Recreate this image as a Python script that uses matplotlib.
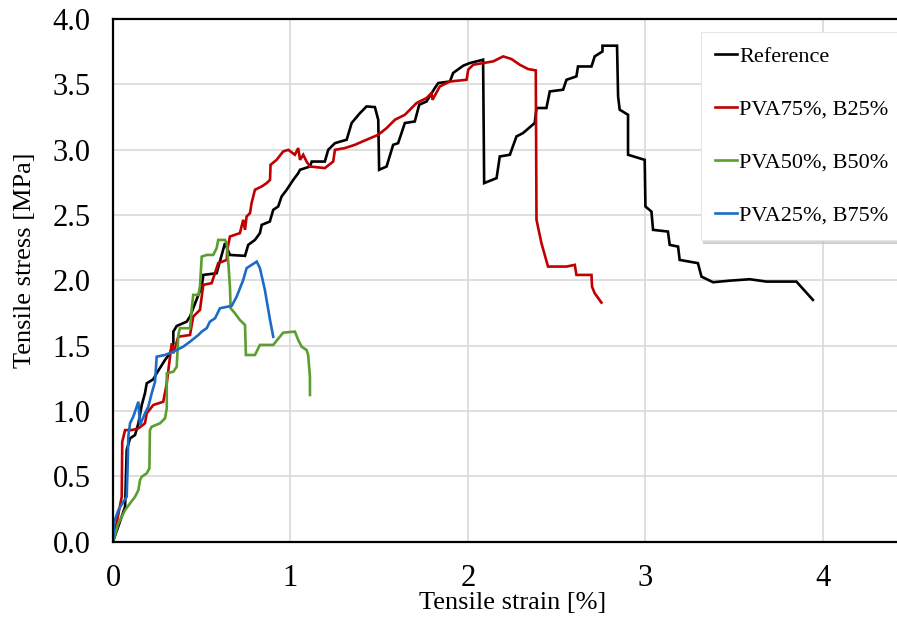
import matplotlib
matplotlib.use("Agg")
import matplotlib.pyplot as plt
from matplotlib.ticker import FixedLocator, MultipleLocator, FormatStrFormatter

# strain [%] / stress [MPa] for each mix
ref_strain = [0.0, 0.068, 0.077, 0.096, 0.124, 0.143, 0.162, 0.180, 0.190, 0.227,
              0.246, 0.293, 0.321, 0.340, 0.340, 0.359, 0.415, 0.434, 0.452, 0.481,
              0.500, 0.509, 0.584, 0.631, 0.659, 0.744, 0.762, 0.800, 0.828, 0.838,
              0.884, 0.903, 0.931, 0.950, 0.979, 1.016, 1.044, 1.054, 1.110, 1.120,
              1.194, 1.213, 1.251, 1.317, 1.345, 1.392, 1.429, 1.476, 1.495, 1.500,
              1.542, 1.579, 1.607, 1.645, 1.701, 1.726, 1.767, 1.814, 1.833, 1.899,
              1.917, 1.974, 2.011, 2.086, 2.092, 2.162, 2.180, 2.237, 2.274, 2.311,
              2.377, 2.387, 2.443, 2.462, 2.537, 2.556, 2.612, 2.621, 2.697, 2.715,
              2.759, 2.759, 2.841, 2.847, 2.856, 2.903, 2.903, 2.997, 3.001, 3.035,
              3.044, 3.128, 3.138, 3.185, 3.194, 3.297, 3.317, 3.382, 3.476, 3.589,
              3.683, 3.852, 3.945]
ref_stress = [0.0, 0.267, 0.701, 0.791, 0.816, 0.906, 1.046, 1.136, 1.212, 1.243,
              1.289, 1.391, 1.442, 1.519, 1.608, 1.651, 1.684, 1.723, 1.787, 1.889,
              1.953, 2.042, 2.055, 2.285, 2.195, 2.188, 2.272, 2.310, 2.362, 2.425,
              2.451, 2.540, 2.566, 2.642, 2.694, 2.770, 2.821, 2.847, 2.872, 2.910,
              2.910, 3.000, 3.051, 3.077, 3.205, 3.281, 3.332, 3.327, 3.230, 2.847,
              2.872, 3.038, 3.051, 3.205, 3.217, 3.345, 3.370, 3.473, 3.511, 3.523,
              3.588, 3.644, 3.664, 3.690, 2.745, 2.783, 2.949, 2.962, 3.102, 3.128,
              3.205, 3.320, 3.320, 3.447, 3.460, 3.536, 3.562, 3.638, 3.638, 3.715,
              3.753, 3.797, 3.797, 3.408, 3.307, 3.268, 2.962, 2.923, 2.566, 2.527,
              2.387, 2.374, 2.272, 2.259, 2.157, 2.132, 2.029, 1.986, 1.998, 2.009,
              1.991, 1.991, 1.851]

pva75_strain = [0.0, 0.049, 0.052, 0.068, 0.105, 0.143, 0.180, 0.190, 0.227, 0.283,
                0.303, 0.312, 0.331, 0.340, 0.368, 0.434, 0.452, 0.490, 0.500, 0.509,
                0.556, 0.593, 0.641, 0.644, 0.659, 0.715, 0.734, 0.744, 0.753, 0.772,
                0.781, 0.800, 0.838, 0.866, 0.885, 0.888, 0.922, 0.959, 0.988, 1.025,
                1.044, 1.054, 1.072, 1.091, 1.110, 1.194, 1.241, 1.251, 1.307, 1.363,
                1.429, 1.495, 1.542, 1.589, 1.645, 1.711, 1.767, 1.795, 1.801, 1.842,
                1.899, 1.993, 2.002, 2.030, 2.086, 2.143, 2.199, 2.246, 2.293, 2.340,
                2.383, 2.387, 2.415, 2.452, 2.556, 2.603, 2.612, 2.697, 2.700, 2.715,
                2.753]
pva75_stress = [0.0, 0.343, 0.765, 0.854, 0.854, 0.867, 0.906, 0.982, 1.046, 1.071,
                1.212, 1.314, 1.519, 1.442, 1.569, 1.582, 1.723, 1.774, 1.876, 1.966,
                1.979, 2.132, 2.157, 2.234, 2.336, 2.362, 2.464, 2.387, 2.489, 2.515,
                2.592, 2.694, 2.719, 2.745, 2.770, 2.885, 2.923, 2.987, 3.000, 2.962,
                3.013, 2.923, 2.962, 2.910, 2.872, 2.860, 2.910, 3.000, 3.013, 3.038,
                3.077, 3.115, 3.166, 3.230, 3.268, 3.358, 3.396, 3.434, 3.383, 3.485,
                3.523, 3.536, 3.613, 3.651, 3.664, 3.677, 3.715, 3.695, 3.651, 3.618,
                3.608, 2.464, 2.285, 2.106, 2.106, 2.119, 2.042, 2.042, 1.953, 1.902,
                1.830]

pva50_strain = [0.0, 0.030, 0.068, 0.096, 0.124, 0.143, 0.152, 0.162, 0.190, 0.205,
                0.208, 0.218, 0.265, 0.293, 0.303, 0.303, 0.340, 0.359, 0.368, 0.377,
                0.434, 0.443, 0.452, 0.481, 0.490, 0.500, 0.528, 0.565, 0.584, 0.593,
                0.631, 0.641, 0.650, 0.659, 0.663, 0.687, 0.715, 0.744, 0.749, 0.800,
                0.828, 0.903, 0.959, 1.025, 1.044, 1.063, 1.091, 1.100, 1.110, 1.110]
pva50_stress = [0.0, 0.139, 0.241, 0.293, 0.343, 0.395, 0.471, 0.497, 0.523, 0.561,
                0.854, 0.880, 0.906, 0.944, 1.021, 1.289, 1.301, 1.339, 1.582, 1.634,
                1.634, 1.774, 1.889, 1.889, 1.953, 2.182, 2.195, 2.195, 2.247, 2.310,
                2.310, 2.285, 2.132, 1.953, 1.787, 1.749, 1.697, 1.659, 1.429, 1.429,
                1.506, 1.506, 1.600, 1.608, 1.544, 1.493, 1.467, 1.429, 1.263, 1.123]

pva25_strain = [0.0, 0.007, 0.030, 0.058, 0.077, 0.083, 0.086, 0.096, 0.114, 0.143,
                0.152, 0.180, 0.199, 0.218, 0.237, 0.246, 0.293, 0.340, 0.396, 0.434,
                0.481, 0.500, 0.528, 0.546, 0.575, 0.603, 0.669, 0.697, 0.734, 0.753,
                0.810, 0.828, 0.856, 0.885, 0.903]
pva25_stress = [0.0, 0.152, 0.241, 0.305, 0.343, 0.599, 0.803, 0.906, 0.956, 1.071,
                0.893, 0.982, 1.033, 1.136, 1.225, 1.416, 1.429, 1.454, 1.493, 1.531,
                1.582, 1.608, 1.634, 1.684, 1.710, 1.787, 1.805, 1.876, 2.004, 2.094,
                2.144, 2.094, 1.927, 1.697, 1.569]

labels = ["Reference", "PVA75%, B25%", "PVA50%, B50%", "PVA25%, B75%"]
colors = ["#000000", "#C00000", "#5A9E2F", "#1C6BC8"]
x_ticks = [0, 1, 2, 3, 4]

plt.rcParams["font.family"] = ["Liberation Serif", "DejaVu Serif"]

fig = plt.figure(figsize=(8.97, 6.19), dpi=100)
# plot area runs a little past the right edge of the figure
ax = fig.add_axes([0.126, 0.125, 0.890, 0.844])

series = [(ref_strain, ref_stress), (pva75_strain, pva75_stress),
          (pva50_strain, pva50_stress), (pva25_strain, pva25_stress)]
for (x, y), lab, c in zip(series, labels, colors):
    ax.plot(x, y, color=c, lw=1.9, label=lab, solid_joinstyle="miter")

ax.set_xlim(0, 4.5)
ax.set_ylim(0, 4)
ax.xaxis.set_major_locator(FixedLocator(x_ticks))
ax.yaxis.set_major_locator(MultipleLocator(0.5))
ax.yaxis.set_major_formatter(FormatStrFormatter("%.1f"))
ax.grid(True, color="#d9d9d9", lw=1.2)
ax.set_axisbelow(True)
ax.tick_params(length=0, labelsize=22)
ax.tick_params(axis="x", pad=16)
ax.tick_params(axis="y", pad=16)
for s in ax.spines.values():
    s.set_linewidth(1.6)
    s.set_color("black")

ax.set_xlabel("Tensile strain [%]", fontsize=19)
ax.set_ylabel("Tensile stress [MPa]", fontsize=19)
ax.xaxis.set_label_coords(0.5, -0.097)
ax.yaxis.set_label_coords(-0.096, 0.539)

leg = ax.legend(loc="upper left", bbox_to_anchor=(0.781, 0.948),
                bbox_transform=fig.transFigure, fontsize=16, frameon=True,
                fancybox=False, shadow={"color": "#bbbbbb", "alpha": 0.6},
                handlelength=1.0, handletextpad=0.1, labelspacing=1.45,
                borderpad=0.65, borderaxespad=0)
leg.get_frame().set_edgecolor("#e6e6e6")
leg.get_frame().set_linewidth(0.8)

fig.savefig("out.png", dpi=100)
